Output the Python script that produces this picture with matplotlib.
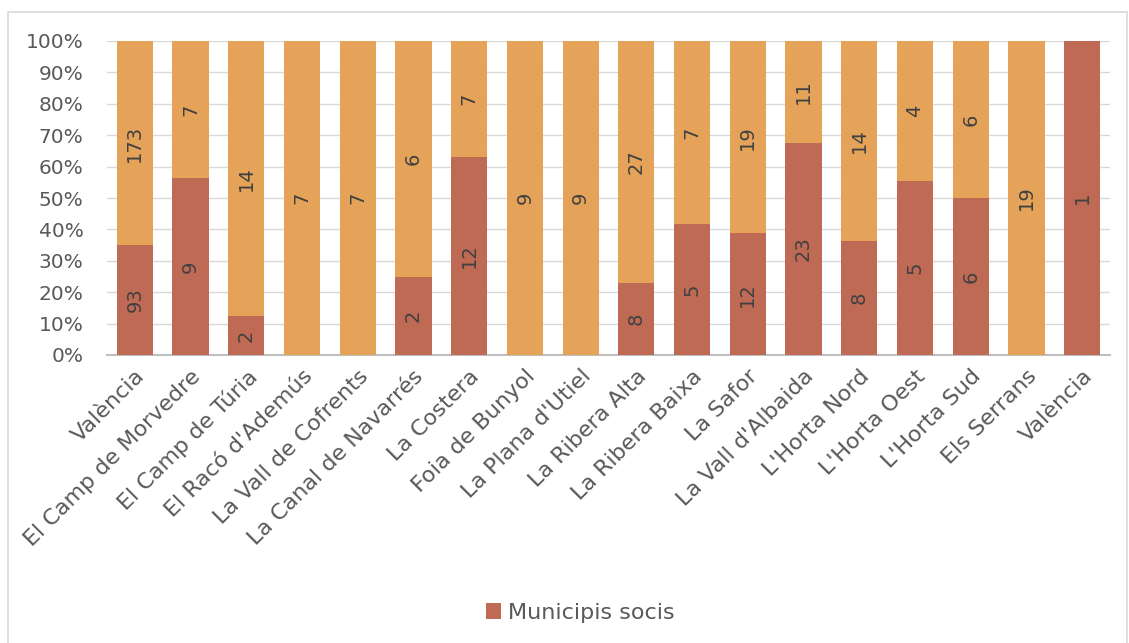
import matplotlib
matplotlib.use("Agg")
import matplotlib.pyplot as plt
import numpy as np
from matplotlib.patches import Rectangle

# comarques de la provincia de Valencia
comarques = ["València", "El Camp de Morvedre", "El Camp de Túria", "El Racó d'Ademús",
             "La Vall de Cofrents", "La Canal de Navarrés", "La Costera", "Foia de Bunyol",
             "La Plana d'Utiel", "La Ribera Alta", "La Ribera Baixa", "La Safor",
             "La Vall d'Albaida", "L'Horta Nord", "L'Horta Oest", "L'Horta Sud",
             "Els Serrans", "València"]
socis = [93, 9, 2, 0, 0, 2, 12, 0, 0, 8, 5, 12, 23, 8, 5, 6, 0, 1]
no_socis = [173, 7, 14, 7, 7, 6, 7, 9, 9, 27, 7, 19, 11, 14, 4, 6, 19, 0]
yticks = [0, 10, 20, 30, 40, 50, 60, 70, 80, 90, 100]

col_socis = "#BF6A55"
col_no = "#E5A35A"
txt = "#595959"

W, H = 1129, 643
fig = plt.figure(figsize=(W/100, H/100), dpi=100)

# chart border (light grey frame, bottom runs off the image)
fig.patches.append(Rectangle((8/W, -0.05), (1127-8)/W, 1.05 - 12/H, transform=fig.transFigure,
                             fill=False, edgecolor="#D9D9D9", linewidth=1.2))

ax = fig.add_axes([107/W, 1-355/H, (1110-107)/W, (355-41)/H])

s = np.array(socis, dtype=float)
n = np.array(no_socis, dtype=float)
tot = s + n
ps = s / tot * 100
pn = n / tot * 100
x = np.arange(len(comarques))

b1 = ax.bar(x, ps, width=0.65, color=col_socis, label="Municipis socis", zorder=3)
b2 = ax.bar(x, pn, width=0.65, bottom=ps, color=col_no, zorder=3)

for i in range(len(x)):
    if socis[i] > 0:
        ax.text(x[i], ps[i]/2, str(socis[i]), rotation=90, ha="center", va="center",
                fontsize=14, color="#404040", zorder=4)
    if no_socis[i] > 0:
        ax.text(x[i], ps[i] + pn[i]/2, str(no_socis[i]), rotation=90, ha="center", va="center",
                fontsize=14, color="#404040", zorder=4)

ax.set_xlim(-0.5, len(x) - 0.5)
ax.set_ylim(0, 100)
ax.set_yticks(yticks)
ax.set_yticklabels([str(v) + "%" for v in yticks], fontsize=14.5, color=txt)
ax.tick_params(axis="y", length=0, pad=17)
ax.set_xticks(x)
ax.set_xticklabels(comarques, rotation=45, ha="right", rotation_mode="anchor",
                   fontsize=16, color=txt)
ax.tick_params(axis="x", length=0, pad=8)

ax.grid(axis="y", color="#D9D9D9", linewidth=1, zorder=0)
for sp in ["top", "right", "left"]:
    ax.spines[sp].set_visible(False)
ax.spines["bottom"].set_color("#BFBFBF")
ax.spines["bottom"].set_linewidth(1.5)

fig.legend(handles=[b1], labels=["Municipis socis"], loc="center",
           bbox_to_anchor=(580/W, 1-613/H), frameon=False, fontsize=16,
           labelcolor=txt, handlelength=0.7, handleheight=0.7, handletextpad=0.3)

fig.savefig("out.png", dpi=100)
